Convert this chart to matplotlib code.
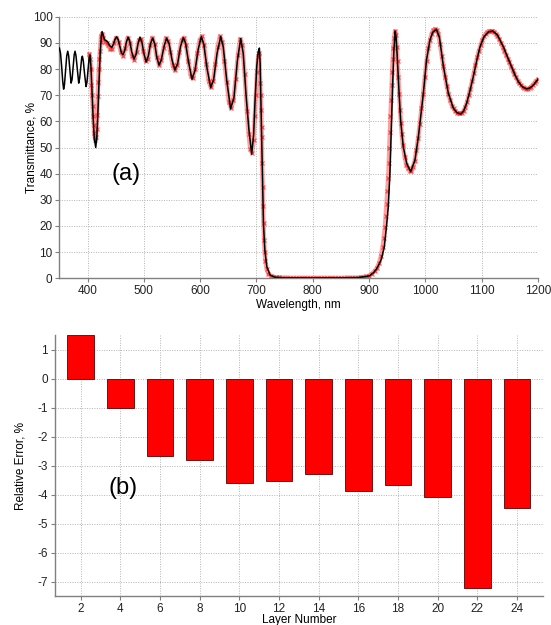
import numpy as np
import matplotlib
matplotlib.use('Agg')
import matplotlib.pyplot as plt

plt.rcParams['font.family'] = ['Liberation Sans', 'DejaVu Sans']
plt.rcParams['axes.unicode_minus'] = False

# calculated transmittance: (wavelength nm, T %)
model = [
    (350, 88.0), (352, 86.0), (354, 81.0), (356, 75.0), (357.5, 72.3), (359, 74.0),
    (361, 79.5), (363, 85.0), (364.8, 86.8), (366.5, 85.0), (368.5, 80.0), (370.7, 74.6),
    (372.5, 76.0), (374.5, 81.0), (376.3, 85.5), (377.8, 86.8), (379.5, 85.0), (381.5, 80.5),
    (384.3, 74.6), (386, 76.5), (388, 81.0), (389.5, 84.0), (390.8, 84.9), (392.5, 83.0),
    (394.5, 78.5), (397.3, 73.3), (399, 75.0), (401, 80.0), (403, 84.5), (404.4, 85.4),
    (406, 81.0), (408, 71.0), (410, 61.0), (412, 53.5), (414.5, 50.0), (416.5, 54.0),
    (418.5, 64.0), (420.5, 76.0), (422.5, 86.5), (424.5, 92.5), (425.8, 94.3), (427.5, 93.0),
    (430, 91.2), (433, 90.8), (436, 90.3), (439, 89.0), (443, 88.2), (446, 89.5),
    (449, 91.5), (451.8, 92.3), (454.5, 91.2), (457.5, 88.5), (460.5, 86.0), (463, 85.5),
    (466, 87.0), (469, 90.3), (472, 92.2), (475, 90.5), (478.5, 86.5), (482.5, 83.8),
    (486, 85.5), (489.5, 89.5), (493, 92.2), (496.5, 90.3), (500, 86.0), (504, 82.7),
    (508, 85.0), (512, 89.8), (515.7, 91.8), (519.5, 89.5), (523, 84.5), (527, 81.5),
    (531, 83.5), (536, 88.8), (540.5, 91.8), (545, 89.5), (550, 83.5), (555, 79.6),
    (560, 82.0), (565, 88.5), (570, 92.0), (574, 90.0), (579.5, 82.5), (585.5, 76.1),
    (591, 79.5), (596.5, 87.5), (602, 92.4), (606.5, 89.5), (612, 80.5), (618.7, 72.9),
    (624, 76.0), (630, 86.0), (636.5, 92.4), (641, 88.5), (647, 76.0), (654, 64.8),
    (660, 69.0), (666, 83.0), (672, 91.6), (676.5, 86.0), (681.5, 70.0), (686.5, 57.0),
    (691.5, 47.5), (695, 55.0), (697.5, 68.0), (700.5, 81.0), (703, 86.5), (705.2, 88.0),
    (706.5, 82.0), (707.7, 69.5), (709.5, 50.5), (710.7, 36.5), (712.4, 21.0), (714.8, 11.0),
    (718.3, 4.5), (724, 1.3), (733, 0.4), (750, 0.2), (800, 0.15), (850, 0.2),
    (880, 0.3), (895, 0.7), (901, 1.0), (908, 2.2), (913, 3.5), (918, 5.5),
    (922, 7.5), (927, 12.0), (931, 20.0), (934, 27.0), (937, 40.0), (939, 54.0),
    (941.7, 73.0), (944, 87.0), (946.4, 94.5), (948, 92.0), (950, 84.7), (953, 72.0),
    (956, 60.5), (960.7, 50.3), (966.7, 44.0), (973.8, 40.8), (981.5, 45.2), (987.5, 54.0),
    (996.4, 70.7), (1002, 83.4), (1008, 91.0), (1013, 94.0), (1019.5, 95.2), (1025, 92.0),
    (1032, 81.0), (1040.8, 70.7), (1049.7, 65.0), (1056, 63.3), (1063, 62.8), (1068, 64.0),
    (1073.4, 67.0), (1079, 71.5), (1085, 77.0), (1091, 83.0), (1097, 88.5), (1104, 92.3),
    (1112, 94.2), (1120, 94.5), (1128, 93.0), (1138.5, 88.5), (1146, 84.5), (1153, 80.9),
    (1159, 77.8), (1165, 75.2), (1172, 73.2), (1180, 72.4), (1186, 72.8), (1191.7, 73.9),
    (1196, 75.0), (1200, 76.2),
]

# measured transmittance: (wavelength nm, T %)
measured = [
    (403, 85.8), (404.5, 84.0), (406, 80.0), (407, 74.0), (408, 70.0), (409, 66.0),
    (410, 62.0), (411, 58.5), (412, 55.5), (413, 53.5), (414, 53.0), (415, 54.0),
    (416, 57.0), (417, 62.5), (418, 69.5), (419, 75.0), (420, 80.0), (421, 84.0),
    (422, 87.0), (423, 90.5), (424, 92.5), (426, 93.5), (428, 92.0), (431, 90.5),
    (434, 90.0), (437, 89.0), (440, 87.5), (443, 87.5), (447, 90.0), (451, 92.0),
    (455, 90.5), (459, 86.5), (463, 85.0), (467, 88.0), (471, 92.0), (475, 90.0),
    (479, 85.0), (483, 83.5), (487, 86.5), (491, 91.0), (495, 91.5), (499, 87.0),
    (503, 83.0), (507, 84.0), (511, 89.0), (515, 92.0), (519, 89.5), (523, 84.5),
    (527, 81.5), (531, 83.5), (535, 88.0), (539, 91.8), (543, 90.8), (547, 86.5),
    (551, 81.5), (555, 79.5), (559, 81.5), (563, 86.5), (567, 91.0), (571, 92.0),
    (575, 89.0), (579, 83.0), (583, 77.5), (587, 76.5), (591, 80.0), (595, 86.0),
    (599, 91.0), (603, 92.5), (607, 89.0), (611, 82.0), (615, 75.5), (619, 73.0),
    (623, 75.5), (627, 82.0), (631, 88.5), (635, 92.5), (639, 90.5), (643, 83.0),
    (647, 75.0), (651, 67.5), (655, 65.0), (659, 68.0), (663, 76.0), (667, 85.5),
    (671, 91.5), (675, 89.0), (679, 78.0), (683, 64.0), (686, 55.0), (689, 49.5),
    (692, 48.0), (695, 53.0), (697, 62.0), (699, 70.0), (701, 79.0), (703, 84.5),
    (705, 86.0), (706.5, 74.6), (707.5, 70.0), (708.3, 64.4), (709, 58.0), (709.5, 54.0),
    (710, 44.0), (711, 35.0), (711.5, 27.5), (712.5, 21.0), (713.5, 14.6), (714.5, 10.0),
    (716, 6.5), (718, 3.5), (721, 1.8), (725, 1.0), (730, 0.6), (735, 0.4),
    (740, 0.4), (745, 0.3), (750, 0.3), (755, 0.3), (760, 0.2), (765, 0.2),
    (770, 0.2), (775, 0.2), (780, 0.2), (785, 0.2), (790, 0.2), (795, 0.2),
    (800, 0.2), (805, 0.2), (810, 0.2), (815, 0.2), (820, 0.2), (825, 0.2),
    (830, 0.2), (835, 0.2), (840, 0.2), (845, 0.2), (850, 0.2), (855, 0.2),
    (860, 0.3), (865, 0.3), (870, 0.3), (875, 0.3), (880, 0.3), (885, 0.4),
    (890, 0.5), (895, 0.7), (900, 1.0), (905, 1.8), (910, 2.8), (914, 4.0),
    (918, 6.0), (921, 8.5), (924, 12.0), (926, 15.5), (928, 19.5), (929.5, 24.0),
    (931, 28.5), (932.5, 33.5), (934, 38.5), (935, 44.0), (936, 50.0), (937, 56.0),
    (938, 62.0), (939, 68.0), (940, 74.0), (941, 79.0), (942, 84.0), (943, 88.0),
    (944.5, 92.0), (946, 94.5), (947.5, 93.0), (949, 88.5), (950.5, 83.0), (952, 77.0),
    (953.5, 70.5), (955, 64.5), (956.5, 59.5), (958, 55.0), (960, 51.0), (963, 46.5),
    (966, 43.5), (969, 42.0), (972, 41.0), (975, 41.0), (978, 42.5), (981, 45.0),
    (984, 49.0), (987, 53.5), (990, 59.0), (993, 65.0), (996, 70.5), (999, 77.0),
    (1002, 83.0), (1005, 88.0), (1008, 91.0), (1011, 93.5), (1014, 94.8), (1017, 95.3),
    (1020, 95.0), (1023, 93.5), (1026, 89.5), (1029, 85.0), (1032, 81.0), (1035, 77.0),
    (1038, 73.5), (1041, 70.5), (1044, 68.0), (1047, 66.0), (1050, 65.0), (1053, 64.0),
    (1056, 63.3), (1059, 63.0), (1062, 63.0), (1065, 63.3), (1068, 64.0), (1071, 65.5),
    (1074, 67.5), (1077, 70.0), (1080, 72.5), (1083, 75.5), (1086, 78.5), (1089, 81.5),
    (1092, 84.5), (1095, 87.0), (1098, 89.0), (1101, 91.0), (1104, 92.5), (1107, 93.5),
    (1110, 94.0), (1113, 94.5), (1116, 94.5), (1119, 94.5), (1122, 94.3), (1125, 93.5),
    (1128, 92.8), (1131, 91.5), (1134, 90.0), (1137, 88.5), (1140, 87.0), (1143, 85.5),
    (1146, 84.0), (1149, 82.5), (1152, 81.0), (1155, 79.5), (1158, 78.0), (1161, 76.8),
    (1164, 75.5), (1167, 74.5), (1170, 73.8), (1173, 73.0), (1176, 72.6), (1179, 72.4),
    (1182, 72.4), (1185, 72.7), (1188, 73.2), (1191, 74.0), (1194, 74.8), (1197, 75.5),
    (1200, 76.0),
]

layers = [2, 4, 6, 8, 10, 12, 14, 16, 18, 20, 22, 24]
rel_err = [1.5, -1.0, -2.67, -2.80, -3.59, -3.54, -3.28, -3.87, -3.68, -4.08, -7.21, -4.48]

model = np.array(model)
measured = np.array(measured)


def style(ax):
    for s in ['top', 'right']:
        ax.spines[s].set_visible(False)
    for s in ['left', 'bottom']:
        ax.spines[s].set_color('#808080')
        ax.spines[s].set_linewidth(1.0)
    ax.grid(True, linestyle=(0, (1, 1.5)), color='#b4b4b4', linewidth=0.7)
    ax.set_axisbelow(True)
    ax.tick_params(length=3, width=0.8, color='#808080', labelsize=8.5,
                   labelcolor='#222222', pad=2)


fig = plt.figure(figsize=(5.51, 6.25), dpi=100)

# (a) spectrum
ax1 = fig.add_axes([0.1078, 0.5547, 0.8686, 0.4186])
style(ax1)
ax1.plot(measured[:, 0], measured[:, 1], color='#ff3030', lw=3.2, alpha=0.45,
         solid_capstyle='round', zorder=2)
ax1.plot(measured[:, 0], measured[:, 1], ls='none', marker='x', ms=3.5, mew=0.9,
         color='#ff2020', alpha=0.7, zorder=2)
ax1.plot(model[:, 0], model[:, 1], color='black', lw=1.1, zorder=3)
ax1.set_xlim(350, 1200)
ax1.set_ylim(0, 100)
ax1.set_xticks(range(400, 1201, 100))
ax1.set_yticks(range(0, 101, 10))
ax1.set_xlabel('Wavelength, nm', fontsize=8.5, labelpad=1)
ax1.set_ylabel('Transmittance, %', fontsize=8.5)
ax1.yaxis.set_label_coords(-0.045, 0.5)
ax1.text(468, 40, '(a)', fontsize=17, ha='center', va='center')

# (b) relative errors per layer
ax2 = fig.add_axes([0.0998, 0.0464, 0.8851, 0.4176])
style(ax2)
ax2.bar(layers, rel_err, width=1.35, color='#ff0000', edgecolor='#5a0000',
        linewidth=0.6, zorder=3)
ax2.set_xlim(0.7, 25.3)
ax2.set_ylim(-7.5, 1.5)
ax2.set_xticks(layers)
ax2.set_yticks(range(-7, 2))
ax2.set_xlabel('Layer Number', fontsize=8.5, labelpad=-1)
ax2.set_ylabel('Relative Error, %', fontsize=8.5)
ax2.yaxis.set_label_coords(-0.059, 0.5)
ax2.text(4.14, -3.77, '(b)', fontsize=17, ha='center', va='center')

fig.savefig('out.png', dpi=100)
